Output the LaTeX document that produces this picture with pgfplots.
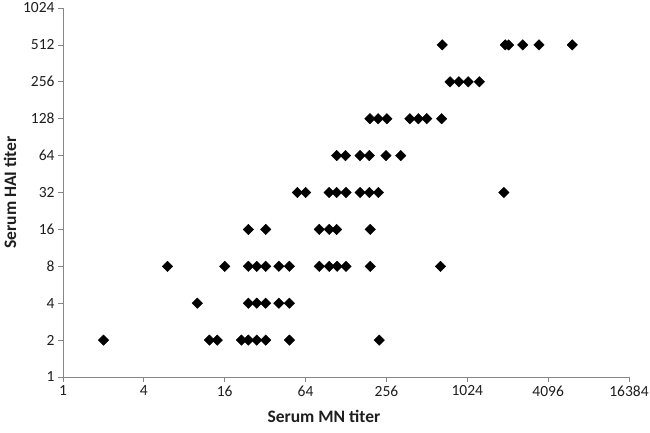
\documentclass[border=0pt]{standalone}
\usepackage{fontspec}
\setmainfont{Carlito}
\usepackage{pgfplots}
\pgfplotsset{compat=1.18}
\definecolor{axgray}{RGB}{134,134,134}
\definecolor{txt}{RGB}{30,30,30}

\begin{document}
\begin{tikzpicture}
\begin{axis}[
  at={(0,0)}, anchor=south west,
  scale only axis, width=566pt, height=369pt,
  xmode=log, ymode=log, log basis x={2}, log basis y={2},
  xmin=1, xmax=16384, ymin=1, ymax=1024,
  xtick={1,4,16,64,256,1024,4096,16384},
  xticklabels={1,4,16,64,256,1024,4096,16384},
  ytick={1,2,4,8,16,32,64,128,256,512,1024},
  yticklabels={1,2,4,8,16,32,64,128,256,512,1024},
  axis lines*=left,
  axis line style={axgray, line width=0.8pt},
  tick align=outside, major tick length=5pt,
  tick style={axgray, line width=0.8pt},
  minor tick num=0,
  tick label style={font=\fontsize{15.5}{18}\selectfont, text=txt},
  xlabel={Serum MN titer}, ylabel={Serum HAI titer},
  label style={font=\fontsize{17.5}{20}\selectfont\bfseries, text=txt},
  xlabel style={at={(axis description cs:0.461,-0.108)}, anchor=center},
  ylabel style={at={(axis description cs:-0.0936,0.5)}, anchor=center},
  clip=false,
]
\addplot[only marks, mark=square*, mark size=3.7pt,
  mark options={rotate=45, fill=black, draw=black}] coordinates {
  % HAI 2
  (2,2) (12.3,2) (14.1,2) (21.3,2) (24,2) (27.7,2) (32.3,2) (48.5,2) (226,2)
  % HAI 4
  (10,4) (24,4) (27.7,4) (32.3,4) (40.5,4) (48.5,4)
  % HAI 8
  (6,8) (16,8) (24,8) (27.7,8) (32.3,8) (40.5,8) (48.5,8)
  (81,8) (96,8) (110,8) (128,8) (194,8) (647,8)
  % HAI 16
  (24,16) (32.3,16) (81,16) (96,16) (109,16) (194,16)
  % HAI 32
  (55.7,32) (64,32) (96,32) (109,32) (128,32) (163,32) (191,32) (223,32) (1920,32)
  % HAI 64
  (109,64) (127,64) (163,64) (191,64) (254,64) (327,64)
  % HAI 128
  (193,128) (222,128) (258,128) (383,128) (443,128) (511,128) (660,128)
  % HAI 256
  (762,256) (887,256) (1040,256) (1260,256)
  % HAI 512
  (666,512) (1965,512) (2080,512) (2650,512) (3500,512) (6200,512)
};
\end{axis}
\pgfresetboundingbox
\useasboundingbox (-63pt,-55pt) rectangle (587pt,377pt);
\end{tikzpicture}
\end{document}
